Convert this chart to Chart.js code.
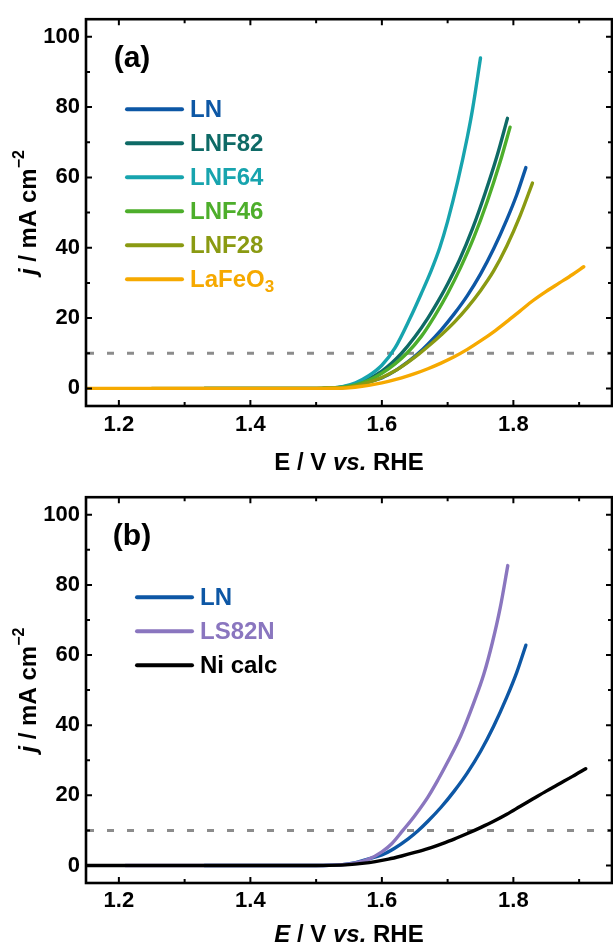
<!DOCTYPE html>
<html>
<head>
<meta charset="utf-8">
<script src="https://cdn.jsdelivr.net/npm/chart.js@4/dist/chart.umd.min.js"></script>
<style>
  html, body { margin: 0; padding: 0; background: #fff; }
  #wrap { position: relative; width: 613px; height: 944px; overflow: hidden; }
  canvas { position: absolute; left: 0; }
</style>
</head>
<body>
<div id="wrap">
  <canvas id="ca" width="613" height="478" style="top:0"></canvas>
  <canvas id="cb" width="613" height="466" style="top:478px"></canvas>
</div>
<script>
// ---- data (E in V vs RHE, j in mA cm-2) ----
const eLN = [1.33, 1.45, 1.50, 1.52, 1.54, 1.56, 1.58, 1.60, 1.62, 1.64, 1.655, 1.67, 1.69, 1.71, 1.73, 1.75, 1.77, 1.79, 1.805, 1.819];
const jLN = [0, 0, 0, 0.05, 0.25, 0.8, 1.9, 3.0, 5.0, 7.6, 9.9, 12.6, 16.6, 21.2, 26.4, 32.5, 39.7, 48, 55, 62.8];

const eLNF82 = [1.51, 1.52, 1.54, 1.56, 1.58, 1.60, 1.615, 1.63, 1.65, 1.67, 1.688, 1.70, 1.718, 1.738, 1.757, 1.775, 1.791];
const jLNF82 = [0, 0.1, 0.4, 1.2, 2.7, 4.9, 7.2, 10, 14.6, 20, 25.6, 29.7, 36.5, 45.5, 55.5, 66, 76.8];

const eLNF64 = [1.51, 1.52, 1.54, 1.56, 1.58, 1.60, 1.62, 1.643, 1.66, 1.675, 1.688, 1.70, 1.7155, 1.73, 1.738, 1.750];
const jLNF64 = [0, 0.1, 0.5, 1.6, 3.6, 6.6, 11.5, 20, 27, 33.5, 40, 47.5, 59, 71.5, 79.5, 94];

const eLNF46 = [1.33, 1.45, 1.50, 1.52, 1.54, 1.56, 1.58, 1.60, 1.62, 1.638, 1.66, 1.68, 1.70, 1.72, 1.74, 1.76, 1.78, 1.795];
const jLNF46 = [0, 0, 0, 0.1, 0.35, 1.0, 2.3, 4.3, 7.0, 10, 14.8, 20.5, 27, 34.5, 43, 53, 64.5, 74.3];

const eLNF28 = [1.25, 1.40, 1.50, 1.52, 1.54, 1.56, 1.58, 1.60, 1.62, 1.64, 1.657, 1.675, 1.69, 1.71, 1.73, 1.75, 1.77, 1.79, 1.81, 1.829];
const jLNF28 = [0, 0, 0, 0.05, 0.2, 0.7, 1.7, 3.1, 5.0, 7.5, 9.9, 12.7, 15.2, 18.8, 23.0, 27.8, 33.4, 40.5, 49.0, 58.4];

const eLFO = [1.15, 1.40, 1.50, 1.52, 1.55, 1.57, 1.59, 1.61, 1.63, 1.65, 1.67, 1.69, 1.71, 1.73, 1.75, 1.77, 1.79, 1.81, 1.83, 1.85, 1.87, 1.89, 1.907];
const jLFO = [0, 0, 0, 0.03, 0.2, 0.6, 1.2, 2.0, 3.0, 4.2, 5.6, 7.2, 9.0, 11.1, 13.5, 16.1, 19.0, 22.0, 25.0, 27.6, 30.0, 32.4, 34.6];

const eLS82N = [1.21, 1.45, 1.50, 1.52, 1.54, 1.56, 1.58, 1.60, 1.615, 1.632, 1.65, 1.67, 1.685, 1.70, 1.72, 1.74, 1.755, 1.768, 1.78, 1.7915];
const jLS82N = [0, 0, 0, 0.05, 0.2, 0.7, 1.8, 3.9, 6.2, 10, 14.2, 19.5, 24.3, 29.5, 37, 46.5, 54.5, 63.5, 73.5, 85.5];

const eNi = [1.15, 1.45, 1.50, 1.52, 1.55, 1.57, 1.59, 1.61, 1.63, 1.65, 1.67, 1.69, 1.71, 1.73, 1.75, 1.77, 1.79, 1.81, 1.83, 1.85, 1.87, 1.89, 1.91];
const jNi = [0, 0, 0, 0.03, 0.25, 0.6, 1.1, 1.8, 2.7, 3.7, 4.8, 6.1, 7.5, 9.1, 10.8, 12.6, 14.6, 16.8, 19.0, 21.2, 23.3, 25.4, 27.6];

const xTicks = [1.2, 1.4, 1.6, 1.8];
const xMinor = [1.2, 1.3, 1.4, 1.5, 1.6, 1.7, 1.8, 1.9];
const yTicks = [0, 20, 40, 60, 80, 100];
const yMinor = [0, 10, 20, 30, 40, 50, 60, 70, 80, 90, 100];
const refLine = 10;

const FONT = "'Liberation Sans', Arial, Helvetica, sans-serif";

function pts(e, j) { return e.map((x, i) => ({ x: x, y: j[i] })); }

function line(label, color, e, j, order) {
  return {
    label: label, data: pts(e, j), borderColor: color, backgroundColor: color,
    borderWidth: 3.4, pointRadius: 0, cubicInterpolationMode: 'monotone',
    borderCapStyle: 'round', borderJoinStyle: 'round', order: order
  };
}

// text made of pieces with different styles
function drawRich(ctx, segs, x, y) {
  for (const s of segs) {
    ctx.font = s.font;
    ctx.fillText(s.t, x, y + (s.dy || 0));
    x += ctx.measureText(s.t).width;
  }
}
function richWidth(ctx, segs) {
  let w = 0;
  for (const s of segs) { ctx.font = s.font; w += ctx.measureText(s.t).width; }
  return w;
}
const SUBS = '₀₁₂₃₄₅₆₇₈₉';
function labelSegs(label, size) {
  const segs = [];
  for (const ch of label) {
    const k = SUBS.indexOf(ch);
    if (k >= 0) segs.push({ t: String(k), font: `bold ${Math.round(size * 0.7)}px ${FONT}`, dy: size * 0.3 });
    else if (segs.length && !segs[segs.length - 1].dy) segs[segs.length - 1].t += ch;
    else segs.push({ t: ch, font: `bold ${size}px ${FONT}` });
  }
  return segs;
}

const deco = {
  id: 'deco',
  beforeDatasetsDraw(chart, args, o) {
    const { ctx, chartArea: a, scales: { y } } = chart;
    const py = y.getPixelForValue(refLine);
    ctx.save();
    ctx.setLineDash([7, 13]);
    ctx.lineWidth = 3;
    ctx.strokeStyle = '#8c8c8c';
    ctx.beginPath();
    ctx.moveTo(a.left + 1, py);
    ctx.lineTo(a.right - 1, py);
    ctx.stroke();
    ctx.restore();
  },
  afterDraw(chart, args, o) {
    const { ctx, chartArea: a, scales: { x, y } } = chart;
    ctx.save();
    // frame
    ctx.strokeStyle = '#000';
    ctx.lineWidth = 2.6;
    ctx.strokeRect(a.left, a.top, a.right - a.left, a.bottom - a.top);
    // inward ticks on all four sides
    ctx.lineWidth = 2;
    ctx.beginPath();
    for (const v of xMinor) {
      const p = x.getPixelForValue(v);
      const len = xTicks.some(t => Math.abs(t - v) < 1e-6) ? 6 : 4;
      ctx.moveTo(p, a.bottom); ctx.lineTo(p, a.bottom - len);
      ctx.moveTo(p, a.top); ctx.lineTo(p, a.top + len);
    }
    for (const v of yMinor) {
      const p = y.getPixelForValue(v);
      const len = yTicks.includes(v) ? 6 : 4;
      ctx.moveTo(a.left, p); ctx.lineTo(a.left + len, p);
      ctx.moveTo(a.right, p); ctx.lineTo(a.right - len, p);
    }
    ctx.stroke();

    ctx.fillStyle = '#000';
    ctx.textBaseline = 'middle';
    // panel tag
    ctx.font = `bold 30px ${FONT}`;
    ctx.textAlign = 'center';
    ctx.fillText(o.tag, a.left + 46, a.top + 40);
    ctx.textAlign = 'left';

    // legend
    chart.data.datasets.forEach((ds, i) => {
      const ry = a.top + o.legTop + i * 34;
      ctx.strokeStyle = ds.borderColor;
      ctx.lineWidth = 4;
      ctx.lineCap = 'round';
      ctx.beginPath();
      ctx.moveTo(a.left + o.legX, ry);
      ctx.lineTo(a.left + o.legX + 55, ry);
      ctx.stroke();
      ctx.fillStyle = ds.borderColor;
      drawRich(ctx, labelSegs(ds.label, 24), a.left + o.legX + 63, ry + 1);
    });

    // x title
    ctx.fillStyle = '#000';
    const xs = o.xTitle.map(s => ({ t: s[0], font: `${s[1] ? 'italic ' : ''}bold 24px ${FONT}` }));
    drawRich(ctx, xs, (a.left + a.right) / 2 - richWidth(ctx, xs) / 2, o.xTitleY);

    // y title
    const ys = [
      { t: 'j', font: `italic bold 24px ${FONT}` },
      { t: ' / mA cm', font: `bold 24px ${FONT}` },
      { t: '−2', font: `bold 16px ${FONT}`, dy: -9 }
    ];
    ctx.translate(29, (a.top + a.bottom) / 2);
    ctx.rotate(-Math.PI / 2);
    drawRich(ctx, ys, -richWidth(ctx, ys) / 2, 0);
    ctx.restore();
  }
};

function makeOptions(xHeight, labelPad, decoOpts) {
  return {
    responsive: false,
    animation: false,
    devicePixelRatio: 1,
    layout: { padding: { top: 13, right: 1, left: 0, bottom: 0 } },
    plugins: { legend: { display: false }, tooltip: { enabled: false }, deco: decoOpts },
    scales: {
      x: {
        type: 'linear', min: 1.15, max: 1.95,
        afterBuildTicks: s => { s.ticks = xTicks.map(v => ({ value: v })); },
        afterFit: s => { s.height = xHeight; },
        grid: { display: false, drawTicks: false }, border: { display: false },
        ticks: { padding: labelPad, color: '#000', font: { family: FONT, size: 22, weight: 'bold' },
                 callback: v => v.toFixed(1) }
      },
      y: {
        min: -5, max: 105,
        afterBuildTicks: s => { s.ticks = yTicks.map(v => ({ value: v })); },
        afterFit: s => { s.width = 86; },
        grid: { display: false, drawTicks: false }, border: { display: false },
        ticks: { padding: 6, color: '#000', font: { family: FONT, size: 22, weight: 'bold' } }
      }
    }
  };
}

new Chart(document.getElementById('ca'), {
  type: 'line',
  data: {
    datasets: [
      line('LN', '#0d57a5', eLN, jLN, 5),
      line('LNF82', '#0e6a66', eLNF82, jLNF82, 4),
      line('LNF64', '#17a4ae', eLNF64, jLNF64, 3),
      line('LNF46', '#4dae2b', eLNF46, jLNF46, 2),
      line('LNF28', '#8a9a12', eLNF28, jLNF28, 1),
      line('LaFeO₃', '#f6a900', eLFO, jLFO, 0)
    ]
  },
  options: makeOptions(72, 6, { tag: '(a)', legX: 41, legTop: 90,
    xTitle: [['E / V ', false], ['vs.', true], [' RHE', false]], xTitleY: 463 }),
  plugins: [deco]
});

new Chart(document.getElementById('cb'), {
  type: 'line',
  data: {
    datasets: [
      line('LN', '#0d57a5', eLN, jLN, 2),
      line('LS82N', '#8a76bf', eLS82N, jLS82N, 1),
      line('Ni calc', '#000000', eNi, jNi, 0)
    ]
  },
  options: makeOptions(61, 5, { tag: '(b)', legX: 51, legTop: 100,
    xTitle: [['E', true], [' / V ', false], ['vs.', true], [' RHE', false]], xTitleY: 457 }),
  plugins: [deco]
});
</script>
</body>
</html>
